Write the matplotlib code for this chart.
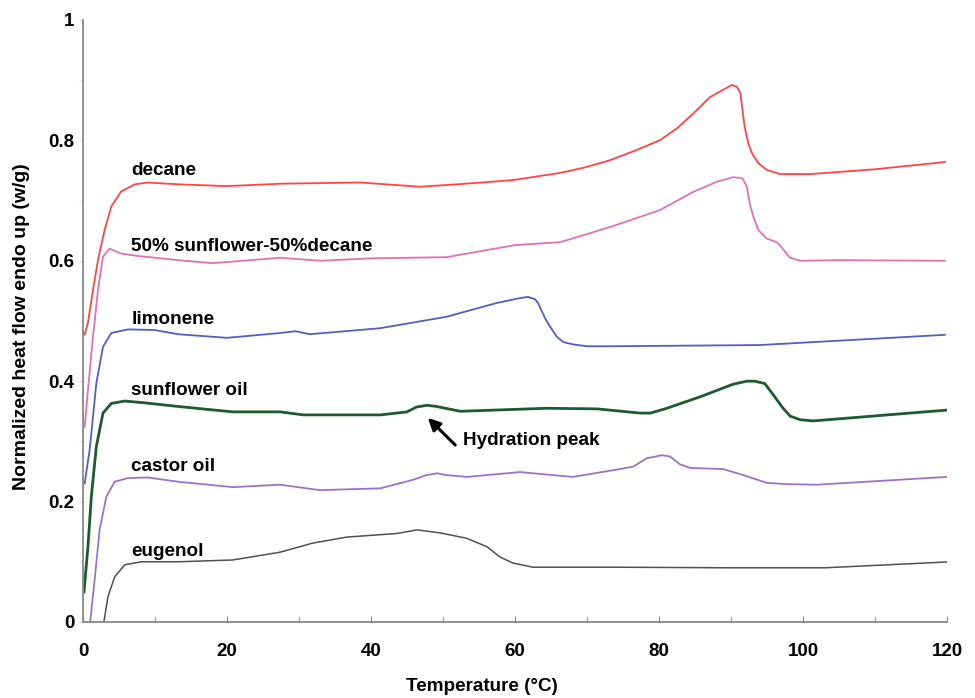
import matplotlib
matplotlib.use('Agg')
import matplotlib.pyplot as plt
from matplotlib.ticker import MultipleLocator

plt.rcParams['font.family'] = ['Liberation Sans', 'DejaVu Sans']
plt.rcParams['font.weight'] = 'bold'

# DSC traces, temperature (°C) vs normalized heat flow (w/g)
decane_t = [0.0, 0.23, 0.69, 1.39, 2.08, 3.0, 3.93, 5.3, 7.2, 9.0, 13.2, 20, 27.4, 38.5,
            46.8, 52, 59.7, 66.3, 69.7, 73.2, 76.9, 80.1, 82.5, 84.8, 87.1, 88.9, 90.1,
            90.8, 91.3, 91.6, 91.9, 92.4, 92.9, 93.8, 94.95, 96.8, 101, 110, 119.7]
decane_y = [0.482, 0.477, 0.497, 0.551, 0.601, 0.651, 0.69, 0.715, 0.727, 0.730, 0.727,
            0.724, 0.728, 0.73, 0.723, 0.727, 0.734, 0.746, 0.755, 0.767, 0.784, 0.80,
            0.82, 0.845, 0.872, 0.884, 0.892, 0.889, 0.879, 0.85, 0.822, 0.795, 0.779,
            0.762, 0.751, 0.744, 0.744, 0.752, 0.764]

blend_t = [0.23, 0.69, 1.39, 2.08, 2.78, 3.7, 5.3, 7.6, 13.2, 18, 27.4, 32.9, 40, 50.5,
           60, 66.3, 73.2, 80.1, 84.7, 88, 90.3, 91.6, 92.2, 92.6, 93.1, 93.8, 94.95,
           96.5, 97.3, 98.2, 99.6, 105, 119.7]
blend_y = [0.324, 0.385, 0.474, 0.551, 0.607, 0.62, 0.612, 0.608, 0.601, 0.596, 0.605,
           0.60, 0.604, 0.606, 0.626, 0.631, 0.656, 0.684, 0.714, 0.731, 0.739, 0.737,
           0.723, 0.695, 0.673, 0.651, 0.637, 0.63, 0.618, 0.605, 0.60, 0.601, 0.60]

limonene_t = [0.23, 0.93, 1.85, 2.78, 3.93, 6.25, 9.95, 13.2, 20, 27.4, 29.5, 31.5, 41.3,
              50.5, 57.5, 60.7, 61.8, 62.8, 63.2, 64.2, 64.9, 65.8, 66.7, 68.1, 70, 73.2,
              94, 119.7]
limonene_y = [0.230, 0.286, 0.396, 0.457, 0.48, 0.486, 0.485, 0.478, 0.472, 0.48, 0.483,
              0.478, 0.488, 0.507, 0.53, 0.538, 0.54, 0.536, 0.53, 0.504, 0.49, 0.474,
              0.465, 0.461, 0.458, 0.458, 0.46, 0.477]

sunflower_t = [0.14, 0.69, 1.16, 1.85, 2.78, 3.93, 5.8, 8.6, 13.2, 20.8, 27.4, 30.6, 41.3,
               45, 46.3, 47.8, 49.1, 52.4, 64.4, 71.4, 77.4, 78.8, 81.1, 85.7, 90.3, 92.2,
               93.3, 94.7, 95.9, 97.1, 98.2, 99.6, 101.4, 120]
sunflower_y = [0.05, 0.125, 0.208, 0.291, 0.347, 0.363, 0.367, 0.364, 0.358, 0.349, 0.349,
               0.344, 0.344, 0.349, 0.357, 0.36, 0.358, 0.35, 0.355, 0.354, 0.347, 0.347,
               0.355, 0.374, 0.395, 0.40, 0.40, 0.396, 0.377, 0.357, 0.342, 0.336, 0.334,
               0.352]

castor_t = [1.0, 1.62, 2.31, 3.24, 4.4, 6.25, 9.0, 13.2, 20.8, 27.4, 32.9, 41.3, 45.8,
            47.7, 49.2, 50.5, 53.3, 60.7, 68, 73.6, 76.4, 78.3, 80.4, 81.5, 82.9, 84.3,
            88.9, 91.7, 95, 97.7, 101.9, 120]
castor_y = [0.0, 0.07, 0.153, 0.208, 0.233, 0.239, 0.240, 0.233, 0.224, 0.228, 0.219,
            0.222, 0.236, 0.244, 0.247, 0.244, 0.241, 0.249, 0.241, 0.252, 0.258, 0.272,
            0.277, 0.275, 0.262, 0.256, 0.254, 0.244, 0.231, 0.229, 0.228, 0.241]

eugenol_t = [2.9, 3.47, 4.4, 5.8, 8.1, 13.2, 20.8, 27.4, 31.9, 36.6, 43.6, 46.4, 49.6,
             53.3, 56.1, 57.9, 59.7, 62.5, 73.6, 90.3, 103, 120]
eugenol_y = [0.0, 0.042, 0.075, 0.095, 0.10, 0.10, 0.103, 0.116, 0.131, 0.141, 0.147,
             0.153, 0.148, 0.139, 0.125, 0.108, 0.098, 0.091, 0.091, 0.09, 0.09, 0.0997]

names = ['decane', '50% sunflower-50%decane', 'limonene', 'sunflower oil', 'castor oil',
         'eugenol']
label_y = [0.75, 0.624, 0.503, 0.385, 0.259, 0.117]

series = [
    (decane_t, decane_y, '#ff4444', 1.3),
    (blend_t, blend_y, '#e070b8', 1.3),
    (limonene_t, limonene_y, '#5060c0', 1.3),
    (sunflower_t, sunflower_y, '#1d5a2c', 2.0),
    (castor_t, castor_y, '#a070c8', 1.3),
    (eugenol_t, eugenol_y, '#505050', 1.1),
]

fig = plt.figure(figsize=(9.75, 6.98), dpi=100)
ax = fig.add_axes([0.0851, 0.1089, 0.8862, 0.8625])

for (t, y, color, lw), name, ly in zip(series, names, label_y):
    ax.plot(t, y, color=color, lw=lw)
    ax.text(6.7, ly, name, fontsize=13.6, fontweight='bold', va='center', ha='left')

# arrow pointing at the small hydration bump on the sunflower oil trace
ax.annotate('', xy=(47.9, 0.339), xytext=(51.7, 0.294),
            arrowprops=dict(arrowstyle='-|>', color='black', lw=2.2, mutation_scale=18,
                            shrinkA=0, shrinkB=0))
ax.text(52.8, 0.302, 'Hydration peak', fontsize=13.6, fontweight='bold',
        va='center', ha='left')

ax.set_xlim(0, 120)
ax.set_ylim(0, 1)
for side in ['top', 'right']:
    ax.spines[side].set_visible(False)
for side in ['left', 'bottom']:
    ax.spines[side].set_color('#888888')
    ax.spines[side].set_linewidth(1.3)

ax.xaxis.set_minor_locator(MultipleLocator(10))
ax.yaxis.set_minor_locator(MultipleLocator(0.1))
ax.set_xticks([0, 20, 40, 60, 80, 100, 120])
ax.set_xticklabels(['0', '20', '40', '60', '80', '100', '120'])
ax.set_yticks([0, 0.2, 0.4, 0.6, 0.8, 1.0])
ax.set_yticklabels(['0', '0.2', '0.4', '0.6', '0.8', '1'])
ax.tick_params(axis='x', which='both', direction='in', length=4, color='#888888',
               labelsize=13.5, pad=15)
ax.tick_params(axis='y', which='both', direction='out', length=3, color='#dddddd',
               labelsize=13.5, pad=3)

ax.set_xlabel('Temperature (°C)', fontsize=13.6, fontweight='bold')
ax.xaxis.label.set_va('center')
ax.xaxis.set_label_coords(0.462, -0.107)
ax.set_ylabel('Normalized heat flow endo up (w/g)', fontsize=14, fontweight='bold')
ax.yaxis.label.set_va('center')
ax.yaxis.set_label_coords(-0.0715, 0.49)

fig.savefig('out.png', dpi=100)
